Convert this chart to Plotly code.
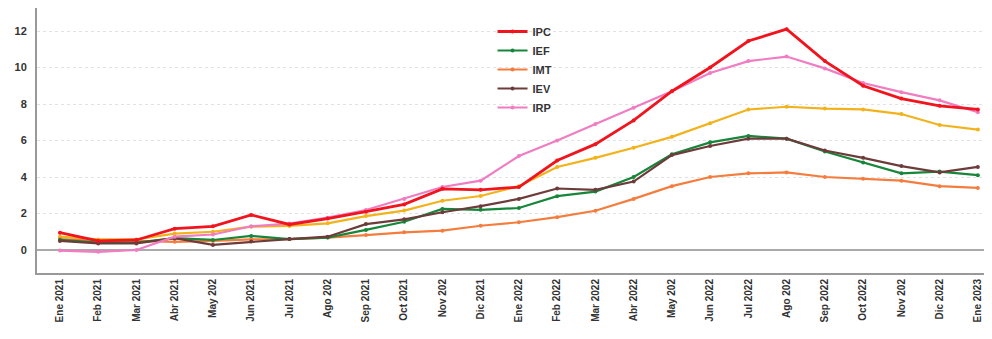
import plotly.graph_objects as go

months = ["Ene 2021", "Feb 2021", "Mar 2021", "Abr 2021", "May 202", "Jun 2021", "Jul 2021",
          "Ago 202", "Sep 2021", "Oct 2021", "Nov 202", "Dic 2021", "Ene 2022", "Feb 2022",
          "Mar 2022", "Abr 2022", "May 202", "Jun 2022", "Jul 2022", "Ago 202", "Sep 2022",
          "Oct 2022", "Nov 202", "Dic 2022", "Ene 2023"]

ipc = [0.95, 0.5, 0.55, 1.17, 1.3, 1.92, 1.4, 1.72, 2.1, 2.5, 3.35, 3.3, 3.45, 4.9, 5.8,
       7.1, 8.7, 10.0, 11.45, 12.1, 10.35, 9.0, 8.3, 7.9, 7.7]
ief = [0.55, 0.4, 0.4, 0.65, 0.55, 0.77, 0.6, 0.68, 1.1, 1.55, 2.25, 2.2, 2.3, 2.95, 3.2,
       4.0, 5.25, 5.9, 6.25, 6.1, 5.4, 4.8, 4.2, 4.3, 4.1]
imt = [0.6, 0.5, 0.5, 0.45, 0.5, 0.58, 0.6, 0.68, 0.82, 0.97, 1.06, 1.33, 1.52, 1.8, 2.15,
       2.8, 3.5, 4.0, 4.2, 4.25, 4.0, 3.9, 3.8, 3.5, 3.4]
iev = [0.5, 0.36, 0.36, 0.65, 0.28, 0.46, 0.6, 0.73, 1.42, 1.68, 2.07, 2.4, 2.8, 3.37, 3.3,
       3.75, 5.2, 5.7, 6.1, 6.1, 5.45, 5.05, 4.6, 4.25, 4.55]
irp = [-0.03, -0.1, 0.0, 0.73, 0.85, 1.3, 1.45, 1.77, 2.19, 2.8, 3.45, 3.8, 5.15, 6.0, 6.9,
       7.8, 8.7, 9.7, 10.35, 10.6, 9.95, 9.15, 8.65, 8.2, 7.55]
sexta = [0.73, 0.58, 0.58, 0.9, 1.0, 1.28, 1.32, 1.46, 1.86, 2.16, 2.7, 2.96, 3.5, 4.55, 5.05,
         5.6, 6.2, 6.95, 7.7, 7.85, 7.75, 7.7, 7.45, 6.85, 6.6]

y_ticks = [0, 2, 4, 6, 8, 10, 12]
xs = list(range(len(months)))

fig = go.Figure()

series = [
    ("sexta", sexta, "#f2b21c", False, 2.2),
    ("IMT", imt, "#f47d3e", True, 2.2),
    ("IEF", ief, "#17853a", True, 2.2),
    ("IEV", iev, "#6e3b3b", True, 2.2),
    ("IRP", irp, "#f07cc2", True, 2.2),
    ("IPC", ipc, "#f0141e", True, 2.8),
]
order = ["IPC", "IEF", "IMT", "IEV", "IRP"]
for name, vals, col, show, w in series:
    fig.add_trace(go.Scatter(
        x=xs, y=vals, mode="lines+markers", name=name,
        line=dict(color=col, width=w),
        marker=dict(color=col, size=4, symbol="circle"),
        showlegend=show,
        legendrank=(order.index(name) + 1) if show else 1000,
    ))

fig.update_layout(
    width=984, height=331,
    margin=dict(l=29, r=0, t=0, b=66, pad=0),
    paper_bgcolor="white", plot_bgcolor="white",
    font=dict(family="Liberation Sans, Arial, sans-serif", color="#333"),
    showlegend=True,
    legend=dict(
        x=0.477, y=0.966, xanchor="left", yanchor="top",
        bgcolor="rgba(0,0,0,0)",
        font=dict(size=11, color="#333", weight="bold"),
        tracegroupgap=0, itemwidth=30,
    ),
    xaxis=dict(
        range=[-0.6, 24.37],
        tickmode="array", tickvals=xs, ticktext=months,
        tickangle=-90, automargin=False,
        tickfont=dict(size=10, color="#333", weight="bold"),
        showgrid=False, zeroline=False,
        showline=True, linecolor="#999", linewidth=2,
        ticks="", ticklen=0,
    ),
    yaxis=dict(
        range=[-1.26, 13.26], automargin=False,
        tickmode="array", tickvals=y_ticks,
        tickfont=dict(size=11, color="#333", weight="bold"),
        showgrid=True, gridcolor="#e2e2e2", griddash="dot", gridwidth=1,
        zeroline=True, zerolinecolor="#aaaaaa", zerolinewidth=2,
        showline=True, linecolor="#999", linewidth=2,
        ticks="", ticklabelstandoff=6,
    ),
)

fig.write_html("out.html")
